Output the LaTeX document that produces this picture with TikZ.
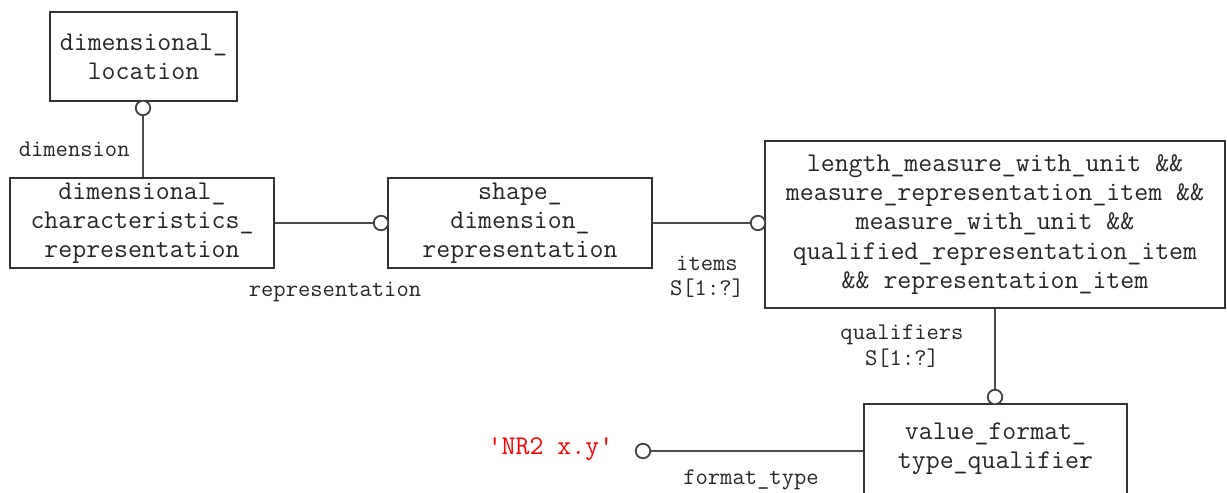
\documentclass[tikz,border=0pt]{standalone}
\usepackage{fontspec}
\setmonofont{Latin Modern Mono}
\usetikzlibrary{positioning}

\begin{document}
\begin{tikzpicture}[x=0.02cm, y=-0.02cm, line width=1.1pt,
ent/.style={draw=black!80, fill=white, inner sep=0pt, align=center, font=\ttfamily\fontsize{15.4}{16.6}\selectfont, text=black!85},
ring/.style={draw=black!75, circle, fill=white, inner sep=0pt, minimum size=0.29cm, line width=1pt},
rel/.style={draw=black!70, line width=1.1pt},
lab/.style={font=\ttfamily\fontsize{13.6}{14.4}\selectfont, align=center, text=black!85}]

\useasboundingbox (0,0) rectangle (1227,493);

\node[ent, minimum width=3.74cm, minimum height=1.78cm] (dloc) at (143.5,56.5) {dimensional\_\\location};
\node[ent, minimum width=5.28cm, minimum height=1.80cm] (dcr) at (142,223) {dimensional\_\\characteristics\_\\representation};
\node[ent, minimum width=5.28cm, minimum height=1.80cm] (sdr) at (520,223) {shape\_\\dimension\_\\representation};
\node[ent, minimum width=9.20cm, minimum height=3.34cm] (lmu) at (995,224.5) {length\_measure\_with\_unit \&\&\\measure\_representation\_item \&\&\\measure\_with\_unit \&\&\\qualified\_representation\_item\\\&\& representation\_item};
\node[ent, minimum width=5.26cm, minimum height=1.80cm] (vftq) at (995.5,449) {value\_format\_\\type\_qualifier};
\node[font=\ttfamily\fontsize{15.4}{16.6}\selectfont, text=red] (nr2) at (550.5,449) {\textquotesingle NR2 x.y\textquotesingle};

\node[ring] (o1) at (143,108) {};
\node[ring] (o2) at (381,223) {};
\node[ring] (o3) at (758,223) {};
\node[ring] (o4) at (995,397) {};
\node[ring] (o5) at (643,451) {};

\draw[rel] (o1) -- (o1 |- dcr.north);
\draw[rel] (dcr.east) -- (o2);
\draw[rel] (sdr.east) -- (o3);
\draw[rel] (o4 |- lmu.south) -- (o4);
\draw[rel] (vftq.west |- o5) -- (o5);

\node[lab, anchor=west] at (12,149) {dimension};
\node[lab] at (335,292) {representation};
\node[lab] at (707,276.5) {items\\S[1:?]};
\node[lab] at (902,346) {qualifiers\\S[1:?]};
\node[lab] at (751,480) {format\_type};
\end{tikzpicture}
\end{document}
